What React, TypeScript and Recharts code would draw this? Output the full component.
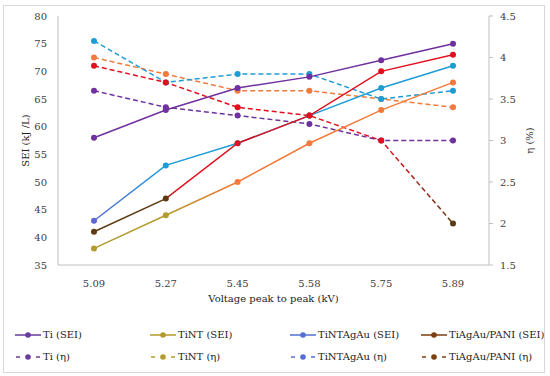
import React from 'react'
import { LineChart, Line, XAxis, YAxis, Legend } from 'recharts'

// x categories (kV)
const voltages = ['5.09', '5.27', '5.45', '5.58', '5.75', '5.89']

// SEI (kJ/L), left axis
const tiSEI = [58, 63, 67, 69, 72, 75]
const tintSEI = [38, 44, 50, 57, 63, 68]
const tintAgAuSEI = [43, 53, 57, 62, 67, 71]
const tiAgAuPaniSEI = [41, 47, 57, 62, 70, 73]

// efficiency η (%), right axis
const tiEta = [3.6, 3.4, 3.3, 3.2, 3.0, 3.0]
const tintEta = [4.0, 3.8, 3.6, 3.6, 3.5, 3.4]
const tintAgAuEta = [4.2, 3.7, 3.8, 3.8, 3.5, 3.6]
const tiAgAuPaniEta = [3.9, 3.7, 3.4, 3.3, 3.0, 2.0]

const data = voltages.map((v, i) => ({
  v,
  tiSEI: tiSEI[i],
  tintSEI: tintSEI[i],
  tintAgAuSEI: tintAgAuSEI[i],
  tiAgAuPaniSEI: tiAgAuPaniSEI[i],
  tiEta: tiEta[i],
  tintEta: tintEta[i],
  tintAgAuEta: tintAgAuEta[i],
  tiAgAuPaniEta: tiAgAuPaniEta[i]
}))

const FONT = "'DejaVu Serif', 'Liberation Serif', 'Times New Roman', serif"
const AXIS = '#BFBFBF'
const TEXT = '#404040'

const PURPLE = '#7030A0'
const OLIVE = '#B39B2E'
const ORANGE = '#F37A3A'
const BLUE = '#5A68D2'
const CYAN = '#1C9DD6'
const BROWN = '#5E3A12'
const RED = '#E2101E'

// per-point marker colours (Excel vary-colour look)
const dotColors: Record<string, string[]> = {
  tiSEI: Array(6).fill(PURPLE),
  tiEta: Array(6).fill(PURPLE),
  tintSEI: [OLIVE, OLIVE, ORANGE, ORANGE, ORANGE, ORANGE],
  tintEta: Array(6).fill(ORANGE),
  tintAgAuSEI: [BLUE, CYAN, CYAN, CYAN, CYAN, CYAN],
  tintAgAuEta: Array(6).fill(CYAN),
  tiAgAuPaniSEI: [BROWN, BROWN, RED, RED, RED, RED],
  tiAgAuPaniEta: [RED, RED, RED, RED, RED, BROWN]
}

const makeDot = (key: string) => (props: any) => {
  const { cx, cy, index } = props
  if (cx == null || cy == null) return <g key={`${key}-${index}`} />
  return <circle key={`${key}-${index}`} cx={cx} cy={cy} r={3} fill={dotColors[key][index]} stroke="none" />
}

const legendItems = [
  { name: 'Ti (SEI)', color: '#6A3A9E', dashed: false, x: 15 },
  { name: 'TiNT (SEI)', color: OLIVE, dashed: false, x: 150 },
  { name: 'TiNTAgAu (SEI)', color: '#5570D4', dashed: false, x: 290 },
  { name: 'TiAgAu/PANI (SEI)', color: '#7A3E10', dashed: false, x: 421 },
  { name: 'Ti (η)', color: '#6A3A9E', dashed: true, x: 15 },
  { name: 'TiNT (η)', color: OLIVE, dashed: true, x: 150 },
  { name: 'TiNTAgAu (η)', color: '#5570D4', dashed: true, x: 290 },
  { name: 'TiAgAu/PANI (η)', color: '#7A3E10', dashed: true, x: 421 }
]

const LegendIcon = ({ color, dashed }: { color: string; dashed: boolean }) => (
  <svg width={26} height={8} style={{ display: 'block' }}>
    {dashed ? (
      <>
        <line x1={1} y1={4} x2={5} y2={4} stroke={color} strokeWidth={1.5} />
        <line x1={21} y1={4} x2={25} y2={4} stroke={color} strokeWidth={1.5} />
      </>
    ) : (
      <line x1={0} y1={4} x2={26} y2={4} stroke={color} strokeWidth={1.5} />
    )}
    <circle cx={13} cy={4} r={2.8} fill={color} />
  </svg>
)

const renderLegend = () => (
  <div style={{ position: 'relative', width: 550, height: 46, fontFamily: FONT, fontSize: 10, color: '#222' }}>
    {legendItems.map((it, i) => (
      <div
        key={it.name}
        style={{
          position: 'absolute',
          left: it.x,
          top: i < 4 ? 5 : 27,
          display: 'flex',
          alignItems: 'center',
          gap: 2,
          whiteSpace: 'nowrap',
          lineHeight: '12px'
        }}
      >
        <LegendIcon color={it.color} dashed={it.dashed} />
        <span>{it.name}</span>
      </div>
    ))}
  </div>
)

export default function App() {
  const tick = { fill: TEXT, fontSize: 10, fontFamily: FONT }
  return (
    <div style={{ position: 'absolute', left: 0, top: 0, width: 550, height: 376, background: '#fff' }}>
      <div
        style={{
          position: 'absolute',
          left: 3,
          top: 5,
          width: 540,
          height: 366,
          border: '1px solid #D9D9D9'
        }}
      />
      <div style={{ position: 'absolute', left: 0, top: 0 }}>
        <LineChart width={550} height={376} data={data} margin={{ top: 16, right: 21, left: 18, bottom: 6 }}>
          <defs>
            <linearGradient id="gTintSEI" x1="0" y1="0" x2="1" y2="0">
              <stop offset="0" stopColor={OLIVE} />
              <stop offset="0.2" stopColor={OLIVE} />
              <stop offset="0.4" stopColor={ORANGE} />
              <stop offset="1" stopColor={ORANGE} />
            </linearGradient>
            <linearGradient id="gTintAgAuSEI" x1="0" y1="0" x2="1" y2="0">
              <stop offset="0" stopColor={BLUE} />
              <stop offset="0.2" stopColor={CYAN} />
              <stop offset="1" stopColor={CYAN} />
            </linearGradient>
            <linearGradient id="gPaniSEI" x1="0" y1="0" x2="1" y2="0">
              <stop offset="0" stopColor={BROWN} />
              <stop offset="0.19" stopColor={BROWN} />
              <stop offset="0.23" stopColor={RED} />
              <stop offset="1" stopColor={RED} />
            </linearGradient>
            <linearGradient id="gPaniEta" x1="0" y1="0" x2="1" y2="0">
              <stop offset="0" stopColor={RED} />
              <stop offset="0.82" stopColor={RED} />
              <stop offset="1" stopColor={BROWN} />
            </linearGradient>
          </defs>
          <XAxis
            dataKey="v"
            padding={{ left: 36, right: 36 }}
            height={59}
            stroke={AXIS}
            tickLine={false}
            tickMargin={9}
            tick={tick}
            label={{
              value: 'Voltage peak to peak (kV)',
              position: 'insideBottom',
              offset: 22,
              style: { fill: '#222', fontSize: 10, fontFamily: FONT }
            }}
          />
          <YAxis
            yAxisId="sei"
            width={40}
            domain={[35, 80]}
            ticks={[35, 40, 45, 50, 55, 60, 65, 70, 75, 80]}
            stroke={AXIS}
            tickLine={false}
            tickSize={0}
            tickMargin={11}
            tick={tick}
            label={{
              value: 'SEI (kJ /L)',
              angle: -90,
              position: 'insideLeft',
              offset: 7,
              style: { fill: '#222', fontSize: 10, fontFamily: FONT, textAnchor: 'middle' }
            }}
          />
          <YAxis
            yAxisId="eta"
            orientation="right"
            width={40}
            domain={[1.5, 4.5]}
            ticks={[1.5, 2, 2.5, 3, 3.5, 4, 4.5]}
            stroke={AXIS}
            tickLine={{ stroke: AXIS }}
            tickSize={4}
            tickMargin={7}
            tick={tick}
            label={{
              value: 'η (%)',
              angle: -90,
              position: 'insideRight',
              offset: 0,
              style: { fill: '#222', fontSize: 10, fontFamily: FONT, textAnchor: 'middle' }
            }}
          />
          <Legend verticalAlign="bottom" wrapperStyle={{ left: 0, width: 550 }} content={renderLegend} />

          <Line yAxisId="eta" dataKey="tiEta" stroke={PURPLE} strokeWidth={1.5} strokeDasharray="5 3" dot={makeDot('tiEta')} isAnimationActive={false} />
          <Line yAxisId="eta" dataKey="tintEta" stroke={ORANGE} strokeWidth={1.5} strokeDasharray="5 3" dot={makeDot('tintEta')} isAnimationActive={false} />
          <Line yAxisId="eta" dataKey="tintAgAuEta" stroke={CYAN} strokeWidth={1.5} strokeDasharray="5 3" dot={makeDot('tintAgAuEta')} isAnimationActive={false} />
          <Line yAxisId="eta" dataKey="tiAgAuPaniEta" stroke="url(#gPaniEta)" strokeWidth={1.5} strokeDasharray="5 3" dot={makeDot('tiAgAuPaniEta')} isAnimationActive={false} />

          <Line yAxisId="sei" dataKey="tiSEI" stroke={PURPLE} strokeWidth={1.5} dot={makeDot('tiSEI')} isAnimationActive={false} />
          <Line yAxisId="sei" dataKey="tintSEI" stroke="url(#gTintSEI)" strokeWidth={1.5} dot={makeDot('tintSEI')} isAnimationActive={false} />
          <Line yAxisId="sei" dataKey="tintAgAuSEI" stroke="url(#gTintAgAuSEI)" strokeWidth={1.5} dot={makeDot('tintAgAuSEI')} isAnimationActive={false} />
          <Line yAxisId="sei" dataKey="tiAgAuPaniSEI" stroke="url(#gPaniSEI)" strokeWidth={1.5} dot={makeDot('tiAgAuPaniSEI')} isAnimationActive={false} />
        </LineChart>
      </div>
    </div>
  )
}
